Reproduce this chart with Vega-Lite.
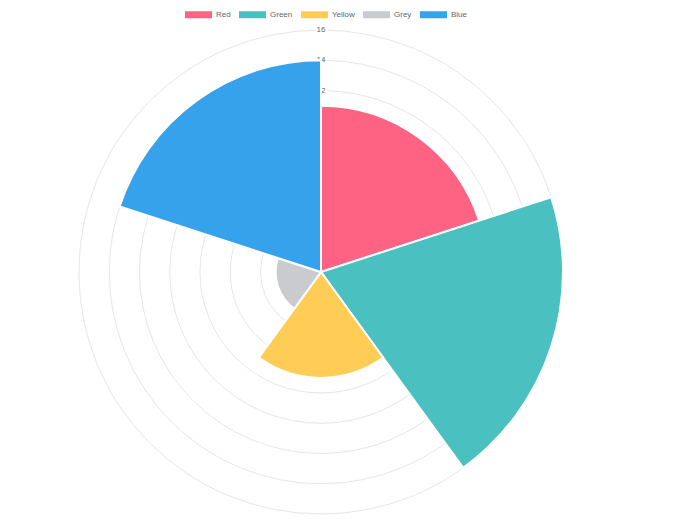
{
  "$schema": "https://vega.github.io/schema/vega-lite/v6.json",
  "width": 640,
  "height": 512,
  "autosize": {"type": "none"},
  "padding": {"top": 16, "left": 1, "right": 0, "bottom": 0},
  "background": "white",
  "config": {"view": {"stroke": null}, "font": "Liberation Sans"},
  "layer": [
    {
      "data": {"values": [{"r": 2}, {"r": 4}, {"r": 6}, {"r": 8}, {"r": 10}, {"r": 12}, {"r": 14}, {"r": 16}]},
      "mark": {"type": "arc", "filled": false, "fill": null, "stroke": "#e6e6e6", "strokeWidth": 1, "theta": 0, "theta2": 6.2832},
      "encoding": {
        "radius": {"field": "r", "type": "quantitative", "stack": null, "scale": {"type": "linear", "domain": [0, 16], "range": [0, 242], "zero": true}}
      }
    },
    {
      "data": {"values": [{"r": 2}, {"r": 4}, {"r": 6}, {"r": 8}, {"r": 10}, {"r": 12}, {"r": 14}, {"r": 16}]},
      "mark": {"type": "text", "theta": 0, "fontSize": 8, "fill": "white", "stroke": "white", "strokeWidth": 4, "align": "center", "baseline": "middle", "dx": 0},
      "encoding": {
        "radius": {"field": "r", "type": "quantitative", "stack": null},
        "text": {"field": "r", "type": "quantitative"}
      }
    },
    {
      "data": {"values": [{"r": 2}, {"r": 4}, {"r": 6}, {"r": 8}, {"r": 10}, {"r": 12}, {"r": 14}, {"r": 16}]},
      "mark": {"type": "text", "theta": 0, "fontSize": 8, "color": "#666666", "align": "center", "baseline": "middle", "dx": 0},
      "encoding": {
        "radius": {"field": "r", "type": "quantitative", "stack": null},
        "text": {"field": "r", "type": "quantitative"}
      }
    },
    {
      "data": {"values": [
        {"label": "Red", "value": 11, "one": 1, "i": 0},
        {"label": "Green", "value": 16, "one": 1, "i": 1},
        {"label": "Yellow", "value": 7, "one": 1, "i": 2},
        {"label": "Grey", "value": 3, "one": 1, "i": 3},
        {"label": "Blue", "value": 14, "one": 1, "i": 4}
      ]},
      "transform": [
        {"stack": "one", "groupby": [], "sort": [{"field": "i", "order": "ascending"}], "as": ["t0", "t1"]}
      ],
      "mark": {"type": "arc", "stroke": "white", "strokeWidth": 2, "opacity": 1},
      "encoding": {
        "theta": {"field": "t0", "type": "quantitative", "stack": null, "scale": {"domain": [0, 5], "range": [0, 6.2832]}},
        "theta2": {"field": "t1"},
        "radius": {"field": "value", "type": "quantitative", "stack": null},
        "color": {
          "field": "label", "type": "nominal",
          "scale": {"domain": ["Red", "Green", "Yellow", "Grey", "Blue"], "range": ["#ff6384", "#4bc0c0", "#ffcd56", "#c9cbcf", "#36a2eb"]},
          "legend": {
            "orient": "none", "legendX": 184, "legendY": -15, "direction": "horizontal", "title": null,
            "symbolType": "M-1,-0.26H1V0.26H-1Z", "symbolSize": 729, "symbolStrokeWidth": 0, "symbolOpacity": 1,
            "labelFont": "Liberation Sans", "labelFontSize": 8, "labelColor": "#666666", "labelOffset": 4, "columnPadding": 8
          }
        }
      }
    }
  ]
}
